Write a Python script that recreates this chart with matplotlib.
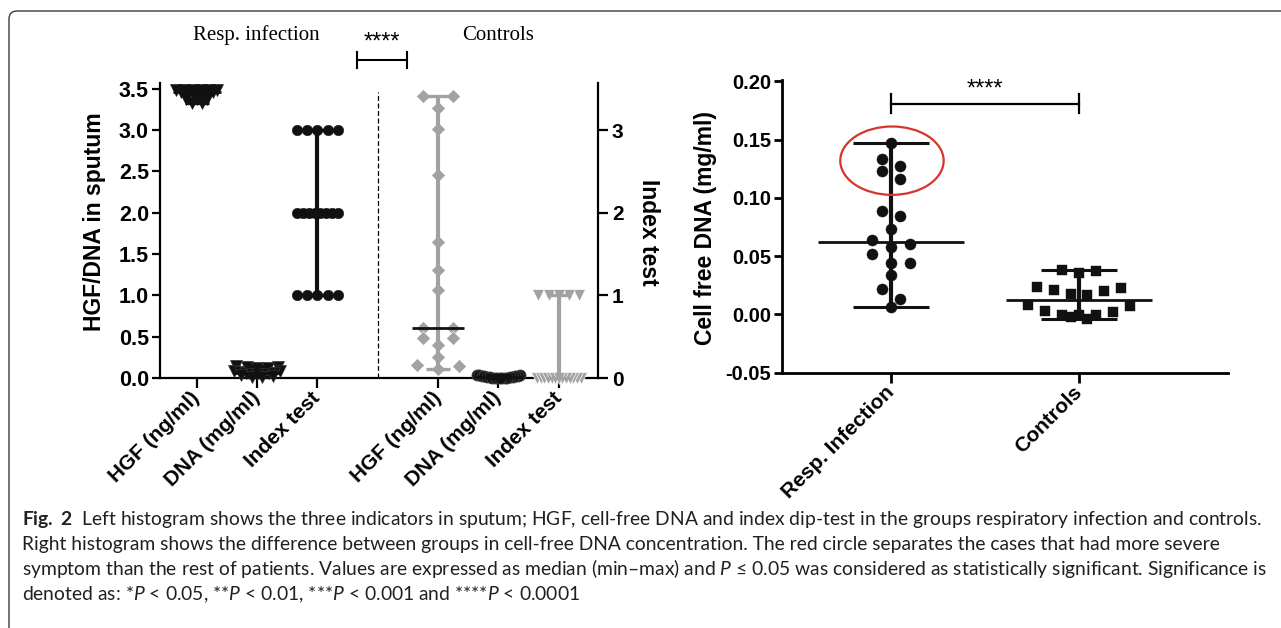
import numpy as np
import matplotlib
matplotlib.use("Agg")
import matplotlib.pyplot as plt
from matplotlib.patches import Ellipse, FancyBboxPatch
from matplotlib.transforms import IdentityTransform

plt.rcParams['axes.unicode_minus'] = False
plt.rcParams['font.family'] = ['Liberation Sans', 'DejaVu Sans']
plt.rcParams['mathtext.fontset'] = 'custom'
plt.rcParams['mathtext.it'] = 'Lato:italic'
plt.rcParams['mathtext.bf'] = 'Lato:bold'
plt.rcParams['mathtext.rm'] = 'Lato'

# ---------------- data ----------------
left_categories = ["HGF (ng/ml)", "DNA (mg/ml)", "Index test",
                   "HGF (ng/ml)", "DNA (mg/ml)", "Index test"]
group_titles = ["Resp. infection", "Controls"]
right_categories = ["Resp. Infection", "Controls"]

resp_hgf = [3.49, 3.49, 3.49, 3.49, 3.49, 3.49, 3.46, 3.46, 3.46,
            3.46, 3.42, 3.42, 3.42, 3.38, 3.38, 3.38, 3.33, 3.33]
resp_dna = [0.147, 0.1335, 0.1274, 0.1234, 0.1163, 0.0888, 0.0842, 0.0733, 0.0636,
            0.0601, 0.0576, 0.0516, 0.0444, 0.0438, 0.0335, 0.0221, 0.0132, 0.0066]
resp_index = [3, 3, 3, 3, 3, 2, 2, 2, 2, 2, 2, 2, 2, 1, 1, 1, 1, 1]

ctrl_hgf = [3.41, 3.41, 3.27, 3.01, 2.46, 1.64, 1.31, 1.07, 0.61,
            0.61, 0.49, 0.49, 0.40, 0.26, 0.16, 0.14, 0.11]
ctrl_dna = [0.0381, 0.0375, 0.0352, 0.0232, 0.0223, 0.0209, 0.0203, 0.0175, 0.0169,
            0.0080, 0.0074, 0.0032, 0.0017, -0.0003, -0.0006, -0.0006, -0.0026, -0.0043]
ctrl_index = [1, 1, 1, 1, 1, 0, 0, 0, 0, 0, 0, 0, 0, 0, 0, 0, 0, 0]

left_yticks = [0.0, 0.5, 1.0, 1.5, 2.0, 2.5, 3.0, 3.5]
index_yticks = [0, 1, 2, 3]
right_yticks = [-0.05, 0.00, 0.05, 0.10, 0.15, 0.20]
sig_label = "****"

caption_lines = [
    r"$\mathbf{Fig.\ 2}$  Left histogram shows the three indicators in sputum; HGF, cell-free DNA and index dip-test in the groups respiratory infection and controls.",
    "Right histogram shows the difference between groups in cell-free DNA concentration. The red circle separates the cases that had more severe",
    r"symptom than the rest of patients. Values are expressed as median (min–max) and $\mathit{P}$ ≤ 0.05 was considered as statistically significant. Significance is",
    r"denoted as: *$\mathit{P}$ < 0.05, **$\mathit{P}$ < 0.01, ***$\mathit{P}$ < 0.001 and ****$\mathit{P}$ < 0.0001",
]

BLACK = "#111111"
GREY = "#a2a2a2"
RED = "#d8342b"


def row_layout(values, bin_h, step, max_half):
    """Column-scatter layout: close values share a row and are spread sideways."""
    v = np.asarray(values, dtype=float)
    order = np.argsort(-v, kind="stable")
    offs = np.zeros(v.size)
    i = 0
    while i < v.size:
        j = i
        while j < v.size and v[order[i]] - v[order[j]] < bin_h:
            j += 1
        row = order[i:j]
        n = row.size
        if n > 1:
            half = min((n - 1) * step / 2.0, max_half)
            slots = np.linspace(-half, half, n)
            slot_order = sorted(range(n), key=lambda k: (-round(abs(slots[k]), 9), slots[k]))
            for member, k in zip(row, slot_order):
                offs[member] = slots[k]
        i = j
    return offs


def draw_group(ax, x, vals, mstyle, bin_h, step, max_half, line_color, med_color,
               med_z, cap_half, med_half, wlw, clw, mlw):
    v = np.asarray(vals, dtype=float)
    offs = row_layout(v, bin_h, step, max_half)
    ax.plot(x + offs, v, linestyle="none", zorder=3, clip_on=False, **mstyle)
    lo, hi, med = v.min(), v.max(), np.median(v)
    ax.plot([x, x], [lo, hi], color=line_color, lw=wlw, zorder=4,
            solid_capstyle="butt", clip_on=False)
    for yv in (lo, hi):
        ax.plot([x - cap_half, x + cap_half], [yv, yv], color=line_color, lw=clw,
                zorder=4, solid_capstyle="butt", clip_on=False)
    ax.plot([x - med_half, x + med_half], [med, med], color=med_color, lw=mlw,
            zorder=med_z, solid_capstyle="butt", clip_on=False)


W, H = 1281, 628
fig = plt.figure(figsize=(W / 100, H / 100), dpi=100)

# frame around the figure
frame = FancyBboxPatch((9, -60), 1400, H - 11 + 60,
                       boxstyle="round,pad=0,rounding_size=8",
                       transform=IdentityTransform(), fill=False,
                       ec="#3a3a3a", lw=1.0)
fig.add_artist(frame)

# ---------------- left panel ----------------
ax = fig.add_axes([160 / W, 1 - 378 / H, 438 / W, (378 - 83) / H])
ax.set_xlim(-0.61, 6.65)
ax.set_ylim(0, 3.57)
left_pos = [0, 1, 2, 4, 5, 6]

draw_group(ax, left_pos[0], resp_hgf, dict(marker="v", ms=8.5, color=BLACK, mec=BLACK, mew=0.4),
           0.02, 0.175, 0.34, BLACK, BLACK, 5, 0.2, 0.4, 3.0, 2.4, 2.0)
draw_group(ax, left_pos[1], resp_dna, dict(marker="v", ms=8.5, color=BLACK, mec="#333333", mew=0.5),
           0.05, 0.175, 0.38, BLACK, BLACK, 5, 0.2, 0.4, 3.0, 2.4, 2.0)
draw_group(ax, left_pos[2], resp_index, dict(marker="o", ms=7.6, color=BLACK, mec=BLACK, mew=0.3),
           0.5, 0.17, 0.34, BLACK, BLACK, 5, 0.2, 0.4, 3.0, 2.4, 2.0)
draw_group(ax, left_pos[3], ctrl_hgf, dict(marker="D", ms=6.8, color=GREY, mec="white", mew=0.4),
           0.08, 0.5, 0.35, GREY, BLACK, 5, 0.2, 0.43, 3.0, 2.4, 2.0)
draw_group(ax, left_pos[4], ctrl_dna, dict(marker="o", ms=8.0, color=BLACK, mec="#444444", mew=0.5),
           0.1, 0.175, 0.36, BLACK, BLACK, 5, 0.2, 0.4, 3.0, 2.4, 2.0)
draw_group(ax, left_pos[5], ctrl_index, dict(marker="v", ms=8.5, color=GREY, mec="white", mew=0.5),
           0.5, 0.17, 0.36, GREY, GREY, 2, 0.2, 0.4, 3.0, 2.4, 2.0)

ax.plot([3, 3], [0, 3.46], color="black", lw=0.9, ls=(0, (4, 2)))

for s in ("top", "right"):
    ax.spines[s].set_visible(False)
for s in ("left", "bottom"):
    ax.spines[s].set_linewidth(1.6)
ax.set_yticks(left_yticks)
ax.set_yticklabels([f"{t:.1f}" for t in left_yticks], fontsize=15.5, fontweight="bold")
ax.set_xticks(left_pos)
ax.set_xticklabels(left_categories, rotation=45, ha="right", va="center",
                   rotation_mode="anchor", fontsize=15, fontweight="bold")
ax.tick_params(axis="y", length=6, width=1.6, pad=2)
ax.tick_params(axis="x", length=7, width=1.6, pad=5)

ax2 = ax.twinx()
ax2.set_ylim(ax.get_ylim())
for s in ("top", "left", "bottom"):
    ax2.spines[s].set_visible(False)
ax2.spines["right"].set_linewidth(1.6)
ax2.set_yticks(index_yticks)
ax2.set_yticklabels([str(t) for t in index_yticks], fontsize=15, fontweight="bold")
ax2.tick_params(axis="y", length=7, width=1.6, pad=3)

# group titles and significance bracket
ax.text(0.98, 4.15, group_titles[0], family="Liberation Serif", fontsize=15,
        ha="center", va="center", clip_on=False)
ax.text(5.0, 4.15, group_titles[1], family="Liberation Serif", fontsize=15,
        ha="center", va="center", clip_on=False)
ax.plot([2.65, 3.48], [3.85, 3.85], color="black", lw=1.5, clip_on=False)
for xb in (2.65, 3.48):
    ax.plot([xb, xb], [3.75, 3.95], color="black", lw=1.5, clip_on=False)
ax.text(3.07, 3.99, sig_label, fontsize=17, ha="center", va="baseline", clip_on=False)

fig.text(95 / W, 1 - 222 / H, "HGF/DNA in sputum", rotation=90, ha="center",
         va="center", fontsize=16.5, fontweight="bold")
fig.text(648 / W, 1 - 232 / H, "Index test", rotation=-90, ha="center",
         va="center", fontsize=16.5, fontweight="bold")

# ---------------- right panel ----------------
bx = fig.add_axes([782 / W, 1 - 372.7 / H, (1227.5 - 782) / W, (372.7 - 80.3) / H])
bx.set_xlim(-0.58, 1.79)
bx.set_ylim(-0.05, 0.201)

draw_group(bx, 0, resp_dna, dict(marker="o", ms=8.0, color=BLACK, mec=BLACK, mew=0.3),
           0.0092, 0.1, 0.42, BLACK, BLACK, 5, 0.2, 0.39, 3.0, 2.2, 2.0)
draw_group(bx, 1, ctrl_dna, dict(marker="s", ms=7.8, color=BLACK, mec=BLACK, mew=0.3),
           0.0092, 0.09, 0.34, BLACK, BLACK, 5, 0.2, 0.39, 3.0, 2.2, 2.0)

bx.add_patch(Ellipse((0.005, 0.132), width=0.55, height=0.0587, fill=False,
                     ec=RED, lw=1.6, zorder=6))

bx.plot([0, 1], [0.181, 0.181], color="black", lw=1.6, clip_on=False)
for xb in (0, 1):
    bx.plot([xb, xb], [0.173, 0.189], color="black", lw=1.6, clip_on=False)
bx.text(0.5, 0.1875, sig_label, fontsize=17, ha="center", va="baseline", clip_on=False)

for s in ("top", "right"):
    bx.spines[s].set_visible(False)
for s in ("left", "bottom"):
    bx.spines[s].set_linewidth(2.0)
bx.set_yticks(right_yticks)
bx.set_yticklabels([f"{t:.2f}" for t in right_yticks], fontsize=14.5, fontweight="bold")
bx.set_xticks([0, 1])
bx.set_xticklabels(right_categories, rotation=45, ha="right", va="center",
                   rotation_mode="anchor", fontsize=15, fontweight="bold")
bx.tick_params(axis="y", length=6, width=2.0, pad=2)
bx.tick_params(axis="x", length=7, width=2.0, pad=5)

fig.text(706 / W, 1 - 228 / H, "Cell free DNA (mg/ml)", rotation=90, ha="center",
         va="center", fontsize=16.5, fontweight="bold")

# ---------------- caption ----------------
baselines = [525, 550, 575, 600]
cap_texts = []
for line, yb in zip(caption_lines, baselines):
    t = fig.text(22 / W, 1 - yb / H, line, ha="left", va="baseline", fontsize=14,
                 family=["Lato", "Liberation Sans", "DejaVu Sans"], color="#231f20")
    cap_texts.append(t)
# fit the first line to the width it spans in the figure
renderer = fig.canvas.get_renderer()
w0 = cap_texts[0].get_window_extent(renderer).width
size = 14 * (1265 - 22) / w0
for t in cap_texts:
    t.set_fontsize(size)

fig.savefig("out.png", dpi=100)
